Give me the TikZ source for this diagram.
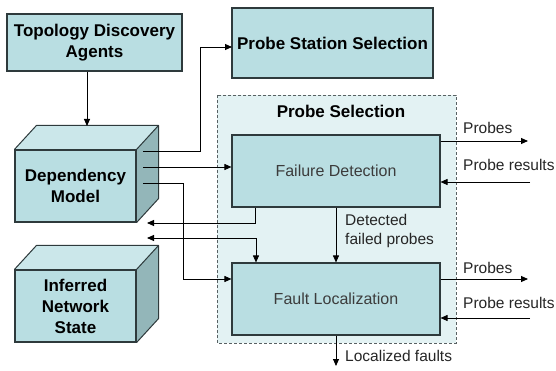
\documentclass[tikz,border=0pt]{standalone}
\usepackage{fontspec}
\setmainfont{Liberation Sans}
\usetikzlibrary{arrows.meta,calc}

\definecolor{boxfill}{HTML}{B9DEE2}
\definecolor{topfill}{HTML}{CBE7EA}
\definecolor{sidefill}{HTML}{93B6B9}
\definecolor{groupfill}{HTML}{E3F2F3}
\definecolor{edge}{HTML}{2E3A3C}
\definecolor{softtext}{HTML}{3C3C3C}

\tikzset{
  panel/.style={draw=edge, line width=1.1pt, fill=boxfill, inner sep=0pt,
    align=center, font=\fontsize{17}{21}\selectfont\bfseries},
  stage/.style={draw=edge, line width=1.1pt, fill=boxfill, inner sep=0pt,
    align=center, text=softtext, font=\fontsize{16}{20}\selectfont},
  face/.style={draw=edge, line width=1pt, line join=round},
  link/.style={draw=black, line width=0.9pt},
  arr/.style={link, -{Triangle[length=7pt,width=6pt]}},
  biarr/.style={link, {Triangle[length=7pt,width=6pt]}-{Triangle[length=7pt,width=6pt]}},
  lbl/.style={inner sep=0pt, anchor=west, align=left, text=black!85,
    font=\fontsize{15.5}{19}\selectfont}
}

% box with a 3D top and right face
\newcommand{\cubefaces}[1]{%
  \fill[topfill] (#1.north west) -- ++(22,-24) -- ($(#1.north east)+(22,-24)$) -- (#1.north east) -- cycle;
  \fill[sidefill] (#1.north east) -- ++(22,-24) -- ($(#1.south east)+(22,-24)$) -- (#1.south east) -- cycle;
  \draw[face] (#1.north west) -- ++(22,-24) -- ($(#1.north east)+(22,-24)$) -- ($(#1.south east)+(22,-24)$) -- (#1.south east);
  \draw[face] (#1.north east) -- ++(22,-24);
}

\begin{document}
\begin{tikzpicture}[x=1pt, y=-1pt]
\useasboundingbox (0,0) rectangle (556,371);
\fill[white] (0,0) rectangle (556,371);

% probe selection group
\draw[draw=edge!80, fill=groupfill, line width=0.8pt, dash pattern=on 3pt off 2pt]
  (217,95) rectangle (456,343);
\node[inner sep=0pt, font=\fontsize{17}{21}\selectfont\bfseries] (pstitle) at (341,111) {Probe Selection};

% main boxes
\node[panel, minimum width=175pt, minimum height=57pt] (tda) at (94.5,42.5)
  {Topology Discovery\\Agents};
\node[panel, minimum width=201pt, minimum height=70pt] (pss) at (332.5,43)
  {Probe Station Selection};

\node[panel, minimum width=121pt, minimum height=72pt] (dep) at (75.5,186) {};
\cubefaces{dep}
\node[panel, minimum width=121pt, minimum height=72pt] (depf) at (75.5,186)
  {Dependency\\Model};

\node[panel, minimum width=121pt, minimum height=72pt] (inf) at (75.5,306) {};
\cubefaces{inf}
\node[panel, minimum width=121pt, minimum height=72pt] (inff) at (75.5,306)
  {Inferred\\Network\\State};

\node[stage, minimum width=208pt, minimum height=72pt] (fd) at (336,171) {Failure Detection};
\node[stage, minimum width=208pt, minimum height=72pt] (fl) at (336,299) {Fault Localization};

% connector end points
\coordinate (deptop) at (87,126);
\coordinate (d1) at (143,151);
\coordinate (d2) at (143,167);
\coordinate (d3) at (143,183);
\coordinate (pssin) at (232,47);
\coordinate (back1) at (147,223);
\coordinate (back2) at (147,238);
\coordinate (fdout) at (528,141);
\coordinate (fdin) at (530,182);
\coordinate (flout) at (528,279);
\coordinate (flin) at (530,318);
\coordinate (faults) at (336,366);

% connectors
\draw[arr] (tda.south -| deptop) -- (deptop);
\draw[arr] (d1) -| (200,47) -- (pssin);
\draw[arr] (d2) -- (d2 -| fd.west);
\draw[arr] (d3) -| (183,279) -- (fl.west |- 0,279);
\draw[arr] (fd.south -| 255,0) |- (back1);
\draw[biarr] (back2) -| (fl.north -| 256,0);
\draw[arr] (fd.south) -- (fl.north);
\draw[arr] (fd.east |- fdout) -- (fdout);
\draw[arr] (fdin) -- (fdin -| fd.east);
\draw[arr] (fl.east |- flout) -- (flout);
\draw[arr] (flin) -- (flin -| fl.east);
\draw[arr] (fl.south) -- (faults);

% labels
\node[lbl] (l1) at (463,128) {Probes};
\node[lbl] (l2) at (463,165) {Probe results};
\node[lbl] (l3) at (463,268) {Probes};
\node[lbl] (l4) at (463,303) {Probe results};
\node[lbl] (l5) at (345,231) {Detected\\failed probes};
\node[lbl] (l6) at (345,356) {Localized faults};
\end{tikzpicture}
\end{document}
